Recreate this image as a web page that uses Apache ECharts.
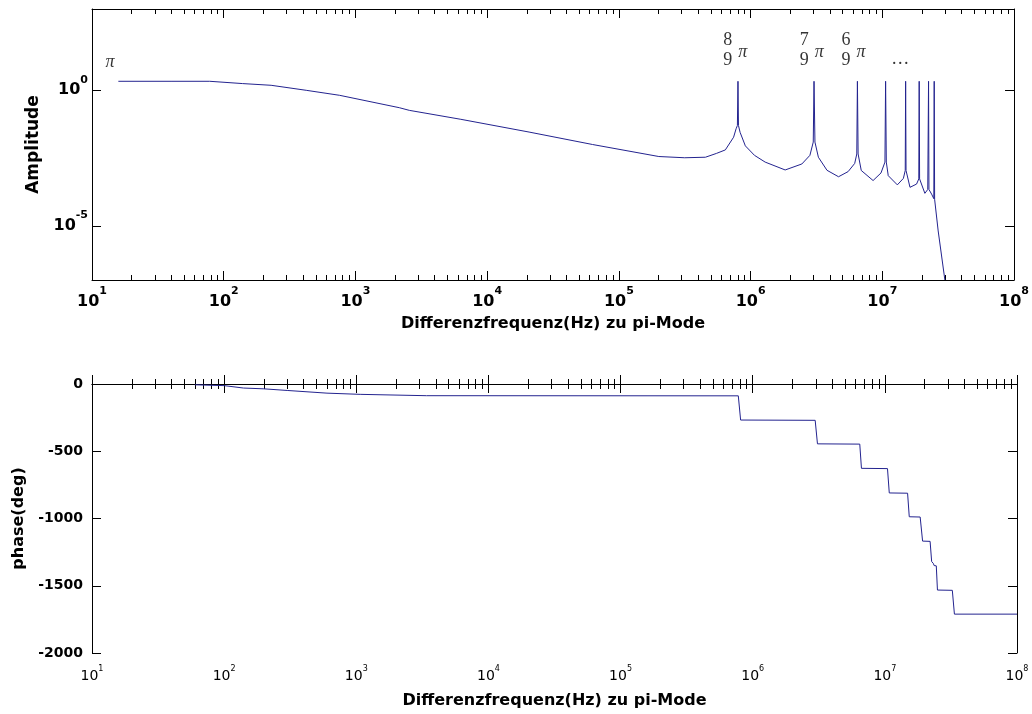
<!DOCTYPE html>
<html>
<head>
<meta charset="utf-8">
<script src="https://cdn.jsdelivr.net/npm/echarts@6/dist/echarts.min.js"></script>
<style>
html, body { margin: 0; padding: 0; background: #fff; }
#chart { width: 1032px; height: 714px; }
</style>
</head>
<body>
<div id="chart"></div>
<script>
// tick positions
var freqDecades = [10, 100, 1e3, 1e4, 1e5, 1e6, 1e7, 1e8];
var freqMinor = [];
for (var k = 1; k < 8; k++) {
    for (var m = 2; m < 10; m++) freqMinor.push(m * Math.pow(10, k));
}
var ampTicks = [1e-5, 1];

// amplitude curve
var ampFreq = [15.85, 39.8, 78.3, 139.3, 229, 423, 759, 2153, 2565, 6310, 20800, 63100,
    201000, 316000, 454000, 550000, 643000, 743000, 776000, 794000, 802000, 809000, 832000,
    912000, 1.07e6, 1.29e6, 1.83e6, 2.45e6, 2.82e6, 2.99e6, 3.03e6, 3.08e6, 3.27e6, 3.80e6,
    4.65e6, 5.50e6, 6.17e6, 6.40e6, 6.47e6, 6.55e6, 6.92e6, 8.51e6, 9.77e6, 1.047e7, 1.059e7,
    1.072e7, 1.109e7, 1.30e7, 1.445e7, 1.493e7, 1.503e7, 1.514e7, 1.622e7, 1.82e7, 1.892e7,
    1.905e7, 1.919e7, 2.104e7, 2.213e7, 2.244e7, 2.259e7, 2.366e7, 2.46e7, 2.477e7, 2.495e7,
    2.655e7, 2.985e7];
var ampValue = [2.15, 2.15, 2.15, 1.77, 1.53, 1.0, 0.653, 0.228, 0.182, 0.0851, 0.0288, 0.01,
    0.0036, 0.00324, 0.00339, 0.00468, 0.00631, 0.0186, 0.038, 0.0501, 2.15, 0.0501, 0.0282,
    0.00891, 0.00398, 0.00224, 0.00115, 0.00191, 0.00398, 0.0123, 2.15, 0.0123, 0.00339, 0.00112,
    0.000646, 0.001, 0.002, 0.00447, 2.15, 0.00447, 0.0011, 0.000468, 0.000891, 0.00224, 2.15,
    0.00224, 0.000708, 0.000324, 0.000562, 0.0011, 2.15, 0.0011, 0.000263, 0.000347, 0.000537,
    2.15, 0.000537, 0.000158, 0.000219, 2.15, 0.000219, 0.000148, 0.0001, 2.15, 0.0000955,
    0.00000646, 1e-7];

// phase curve
var phaseFreq = [60, 100, 140, 200, 300, 600, 1070, 3400, 7.78e5, 8.1e5, 2.97e6, 3.09e6,
    6.46e6, 6.65e6, 1.047e7, 1.08e7, 1.486e7, 1.53e7, 1.85e7, 1.93e7, 2.2e7, 2.26e7, 2.33e7,
    2.36e7, 2.45e7, 2.5e7, 3.24e7, 3.36e7, 1e8];
var phaseValue = [-6, -12, -30, -36, -48, -68, -77, -87, -88, -268, -270, -445, -447, -627,
    -629, -810, -812, -987, -989, -1168, -1170, -1320, -1335, -1350, -1352, -1532, -1534,
    -1711, -1711];

// annotations above the resonance peaks
var fracNum = ['8', '7', '6'];
var fracDen = ['9', '9', '9'];
var fracFreq = [6.7e5, 2.56e6, 5.3e6];
var fracAmp = 30;
var piModeFreq = 13.7, piModeAmp = 10.9;
var dotsFreq = 1.37e7, dotsAmp = 14;

var F = 'DejaVu Sans';
var SERIF = 'Liberation Serif';
var LINE = '#23238f';

function zip(a, b) { return a.map(function (v, i) { return [v, b[i]]; }); }
function pow10(v) { return '{b|10}{s|' + Math.round(Math.log10(v)) + '}'; }

// superscript is top-aligned inside a tall line, the base digits sit in the middle
var richTop = {
    b: { fontFamily: F, fontSize: 16, fontWeight: 'bold', color: '#000', verticalAlign: 'middle' },
    s: { fontFamily: F, fontSize: 11, fontWeight: 'bold', color: '#000', lineHeight: 32, verticalAlign: 'top' }
};
var richBottom = {
    b: { fontFamily: F, fontSize: 14, color: '#000', verticalAlign: 'middle' },
    s: { fontFamily: F, fontSize: 8, color: '#000', lineHeight: 22, verticalAlign: 'top' }
};

function freqAxes(grid, rich, margin, title, nameGap) {
    var base = { type: 'log', logBase: 10, min: 10, max: 1e8, gridIndex: grid, splitLine: { show: false } };
    var line = { show: true, lineStyle: { color: '#000', width: 1 } };
    return [
        Object.assign({}, base, {
            position: 'bottom', axisLine: line,
            axisTick: { inside: true, length: 9, customValues: freqDecades, lineStyle: { color: '#000' } },
            axisLabel: { customValues: freqDecades, margin: margin, formatter: pow10, rich: rich },
            name: title, nameLocation: 'middle', nameGap: nameGap,
            nameTextStyle: { fontFamily: F, fontSize: 16, fontWeight: 'bold', color: '#000' }
        }),
        Object.assign({}, base, {
            position: 'bottom', axisLine: { show: false },
            axisTick: { inside: true, length: 5, customValues: freqMinor, lineStyle: { color: '#000' } },
            axisLabel: { show: false }
        }),
        Object.assign({}, base, {
            position: 'top', axisLine: line,
            axisTick: { inside: true, length: 9, customValues: freqDecades, lineStyle: { color: '#000' } },
            axisLabel: { show: false }
        }),
        Object.assign({}, base, {
            position: 'top', axisLine: { show: false },
            axisTick: { inside: true, length: 5, customValues: freqMinor, lineStyle: { color: '#000' } },
            axisLabel: { show: false }
        })
    ];
}

var chart = echarts.init(document.getElementById('chart'));
chart.setOption({
    animation: false,
    backgroundColor: '#fff',
    grid: [
        { left: 92, top: 9, width: 924, height: 271 },
        { left: 92, top: 384, width: 925, height: 269 }
    ],
    xAxis: freqAxes(0, richTop, 6, 'Differenzfrequenz(Hz) zu pi-Mode', 36)
        .concat(freqAxes(1, richBottom, 12, 'Differenzfrequenz(Hz) zu pi-Mode', 40)),
    yAxis: [
        {
            type: 'log', logBase: 10, min: 1e-7, max: 1e3, gridIndex: 0, position: 'left',
            splitLine: { show: false },
            axisLine: { show: true, lineStyle: { color: '#000' } },
            axisTick: { inside: true, length: 9, customValues: ampTicks, lineStyle: { color: '#000' } },
            axisLabel: { customValues: ampTicks, margin: 4, formatter: pow10, rich: richTop },
            name: 'Amplitude', nameLocation: 'middle', nameGap: 50, nameRotate: 90,
            nameTextStyle: { fontFamily: F, fontSize: 17, fontWeight: 'bold', color: '#000' }
        },
        {
            type: 'log', logBase: 10, min: 1e-7, max: 1e3, gridIndex: 0, position: 'right',
            splitLine: { show: false },
            axisLine: { show: true, lineStyle: { color: '#000' } },
            axisTick: { inside: true, length: 9, customValues: ampTicks, lineStyle: { color: '#000' } },
            axisLabel: { show: false }
        },
        {
            type: 'value', min: -2000, max: 0, interval: 500, gridIndex: 1, position: 'left',
            splitLine: { show: false },
            axisLine: { show: true, lineStyle: { color: '#000' } },
            axisTick: { inside: true, length: 9, lineStyle: { color: '#000' } },
            axisLabel: {
                margin: 9, fontFamily: F, fontSize: 14, fontWeight: 'bold', color: '#000',
                formatter: function (v) { return String(v); }
            },
            name: 'phase(deg)', nameLocation: 'middle', nameGap: 64, nameRotate: 90,
            nameTextStyle: { fontFamily: F, fontSize: 16, fontWeight: 'bold', color: '#000' }
        },
        {
            type: 'value', min: -2000, max: 0, interval: 500, gridIndex: 1, position: 'right',
            splitLine: { show: false },
            axisLine: { show: true, lineStyle: { color: '#000' } },
            axisTick: { inside: true, length: 9, lineStyle: { color: '#000' } },
            axisLabel: { show: false }
        }
    ],
    series: [
        {
            type: 'line', xAxisIndex: 0, yAxisIndex: 0, data: zip(ampFreq, ampValue),
            showSymbol: false, symbol: 'none', silent: true,
            lineStyle: { color: LINE, width: 1 }
        },
        {
            type: 'line', xAxisIndex: 4, yAxisIndex: 2, data: zip(phaseFreq, phaseValue),
            showSymbol: false, symbol: 'none', silent: true,
            lineStyle: { color: LINE, width: 1 }
        },
        {
            // fractions n/9
            type: 'scatter', xAxisIndex: 0, yAxisIndex: 0, symbolSize: 0, silent: true,
            data: fracFreq.map(function (f) { return [f, fracAmp]; }),
            label: {
                show: true, position: 'inside', color: '#000',
                fontFamily: SERIF, fontSize: 18, lineHeight: 20,
                formatter: function (p) { return fracNum[p.dataIndex] + '\n' + fracDen[p.dataIndex]; }
            }
        },
        {
            // pi symbols next to the fractions
            type: 'scatter', xAxisIndex: 0, yAxisIndex: 0, symbolSize: 0, silent: true,
            data: fracFreq.map(function (f) { return [f, fracAmp]; }),
            label: {
                show: true, position: 'inside', offset: [15, 2], color: '#000',
                fontFamily: SERIF, fontStyle: 'italic', fontSize: 18, formatter: '\u03c0'
            }
        },
        {
            type: 'scatter', xAxisIndex: 0, yAxisIndex: 0, symbolSize: 0, silent: true,
            data: [[piModeFreq, piModeAmp]],
            label: {
                show: true, position: 'inside', color: '#000',
                fontFamily: SERIF, fontStyle: 'italic', fontSize: 18, formatter: '\u03c0'
            }
        },
        {
            type: 'scatter', xAxisIndex: 0, yAxisIndex: 0, symbolSize: 0, silent: true,
            data: [[dotsFreq, dotsAmp]],
            label: {
                show: true, position: 'inside', color: '#000',
                fontFamily: SERIF, fontSize: 18, formatter: '\u2026'
            }
        }
    ]
});
</script>
</body>
</html>
